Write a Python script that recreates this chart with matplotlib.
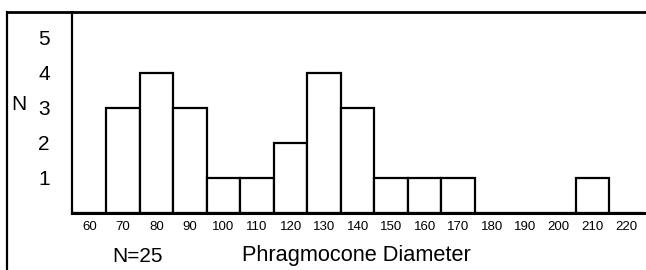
import matplotlib
matplotlib.use("Agg")
import matplotlib.pyplot as plt
from matplotlib.lines import Line2D

plt.rcParams['font.family'] = ['Liberation Sans', 'DejaVu Sans']

# phragmocone diameter bins and counts (N=25)
bins = [60, 70, 80, 90, 100, 110, 120, 130, 140, 150, 160, 170, 180, 190, 200, 210, 220]
counts = [0, 3, 4, 3, 1, 1, 2, 4, 3, 1, 1, 1, 0, 0, 0, 1, 0]
yticks = [1, 2, 3, 4, 5]

fig = plt.figure(figsize=(6.46, 2.70), dpi=100)
ax = fig.add_axes([72/646, 1-213/270, 1-72/646, (213-12)/270])

ax.bar(bins, counts, width=10, color='white', edgecolor='black', linewidth=1.6)

ax.set_xlim(54.8, 226.0)
ax.set_ylim(0, 5.74)
ax.set_xticks(bins)
ax.set_xticklabels([str(b) for b in bins], fontsize=9.5)
ax.set_yticks(yticks)
ax.set_yticklabels([str(t) for t in yticks], fontsize=15)
ax.tick_params(axis='both', length=0)
ax.tick_params(axis='x', pad=6)
ax.tick_params(axis='y', pad=16)

for s in ['top', 'right']:
    ax.spines[s].set_visible(False)
ax.spines['left'].set_linewidth(1.6)
ax.spines['bottom'].set_linewidth(2.2)

# outer frame: top and left lines
fig.add_artist(Line2D([7/646, 1], [1-12/270, 1-12/270], color='black', lw=2.0, transform=fig.transFigure))
fig.add_artist(Line2D([7/646, 7/646], [0, 1-12/270], color='black', lw=1.6, transform=fig.transFigure))

fig.text(18.5/646, 1-104/270, 'N', fontsize=15, ha='center', va='center')
fig.text(138/646, 1-256/270, 'N=25', fontsize=15, ha='center', va='center')
fig.text(242/646, 1-256/270, 'Phragmocone Diameter', fontsize=15.7, ha='left', va='center')

fig.savefig('out.png', dpi=100)
